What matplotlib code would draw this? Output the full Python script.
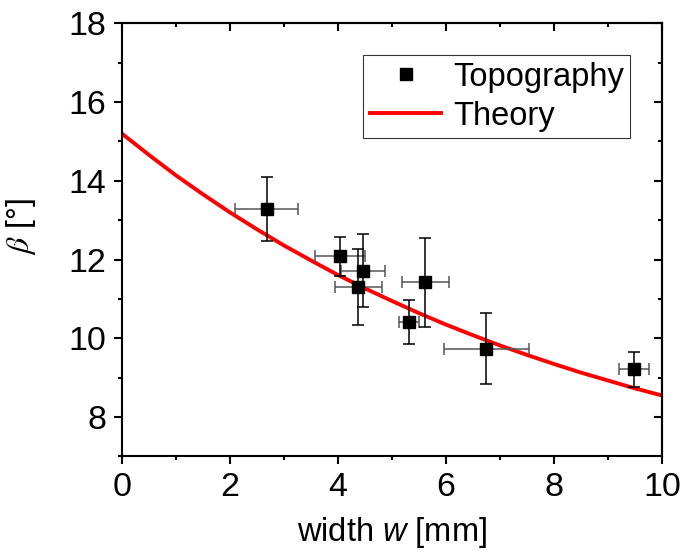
import numpy as np
import matplotlib
matplotlib.use("Agg")
import matplotlib.pyplot as plt
from matplotlib.ticker import MultipleLocator

plt.rcParams['font.family'] = ['Liberation Sans', 'DejaVu Sans']
plt.rcParams['mathtext.fontset'] = 'custom'
plt.rcParams['mathtext.rm'] = 'Liberation Sans'
plt.rcParams['mathtext.it'] = 'Liberation Sans:italic'

# measured points (topography)
width = [2.68, 4.04, 4.46, 4.38, 5.32, 5.62, 6.75, 9.48]
beta = [13.29, 12.08, 11.72, 11.31, 10.42, 11.42, 9.74, 9.21]
width_err = [0.59, 0.46, 0.41, 0.44, 0.19, 0.43, 0.79, 0.28]
beta_err = [0.82, 0.50, 0.92, 0.96, 0.56, 1.13, 0.90, 0.45]

# theory curve
theory_w = [0, 0.5, 1, 1.5, 2, 2.5, 3, 3.5, 4, 4.5, 5, 5.5,
            6, 6.5, 7, 7.5, 8, 8.5, 9, 9.5, 10]
theory_beta = [15.20, 14.66, 14.14, 13.66, 13.20, 12.77, 12.36, 11.98, 11.61, 11.27,
               10.95, 10.64, 10.35, 10.08, 9.82, 9.58, 9.35, 9.13, 8.93, 8.73, 8.55]

fig = plt.figure(figsize=(6.81, 5.56), dpi=100)
ax = fig.add_axes([0.179, 0.179, 0.793, 0.779])

ax.plot(theory_w, theory_beta, color='red', lw=2.8, label='Theory', zorder=2)

# horizontal bars grey, vertical bars black
ax.errorbar(width, beta, xerr=width_err, fmt='none', ecolor='#555555',
            elinewidth=1.1, capsize=4, capthick=1.1, zorder=3)
ax.errorbar(width, beta, yerr=beta_err, fmt='none', ecolor='black',
            elinewidth=1.1, capsize=4, capthick=1.1, zorder=3)
ax.plot(width, beta, 's', color='black', ms=8.5, ls='none',
        label='Topography', zorder=4)

ax.set_xlim(0, 10)
ax.set_ylim(7, 18)
ax.xaxis.set_major_locator(MultipleLocator(2))
ax.xaxis.set_minor_locator(MultipleLocator(1))
ax.yaxis.set_major_locator(MultipleLocator(2))
ax.yaxis.set_minor_locator(MultipleLocator(1))
ax.set_yticks([8, 10, 12, 14, 16, 18])

for s in ax.spines.values():
    s.set_linewidth(1.5)

ax.tick_params(which='both', direction='out', top=False, right=False, width=1.5)
ax.tick_params(which='major', length=6, labelsize=24.5, pad=5)
ax.tick_params(which='minor', length=3)

# inward ticks on top and right without labels
axt = ax.secondary_xaxis('top')
axt.xaxis.set_major_locator(MultipleLocator(2))
axt.xaxis.set_minor_locator(MultipleLocator(1))
axt.tick_params(which='both', direction='in', labeltop=False, width=1.5)
axt.tick_params(which='major', length=6)
axt.tick_params(which='minor', length=3)
axt.spines['top'].set_linewidth(1.5)
axr = ax.secondary_yaxis('right')
axr.yaxis.set_major_locator(MultipleLocator(2))
axr.yaxis.set_minor_locator(MultipleLocator(1))
axr.tick_params(which='both', direction='in', labelright=False, width=1.5)
axr.tick_params(which='major', length=6)
axr.tick_params(which='minor', length=3)
axr.spines['right'].set_linewidth(1.5)

ax.set_xlabel('width $w$ [mm]', fontsize=23.5, labelpad=9)
ax.set_ylabel(r'$\beta$ [°]', fontsize=23, math_fontfamily='stix')
ax.yaxis.set_label_coords(-0.155, 0.53)

handles, labels = ax.get_legend_handles_labels()
leg = ax.legend(handles[::-1], labels[::-1], loc='upper right', fontsize=23.5,
                frameon=True, fancybox=False, edgecolor='black',
                borderaxespad=0.97, handlelength=2.2, handletextpad=0.35,
                borderpad=0.2, labelspacing=0.25)
leg.get_frame().set_linewidth(0.8)

fig.savefig('out.png', dpi=100)
